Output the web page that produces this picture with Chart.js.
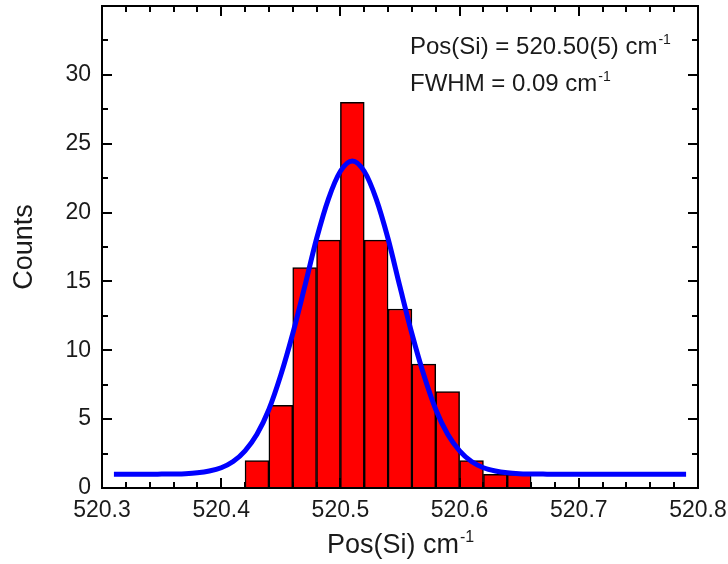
<!DOCTYPE html>
<html lang="en">
<head>
<meta charset="UTF-8">
<title>Pos(Si) histogram</title>
<script src="https://cdn.jsdelivr.net/npm/chart.js"></script>
<style>
  body { margin: 0; background: #fff; }
  #wrap { width: 728px; height: 564px; }
</style>
</head>
<body>
<div id="wrap"><canvas id="myChart"></canvas></div>
<script>
// histogram bins (centres, width 0.02) and counts
const binCentres = [520.43, 520.45, 520.47, 520.49, 520.51, 520.53, 520.55, 520.57, 520.59, 520.61, 520.63, 520.65];
const binCounts = [2, 6, 16, 18, 28, 18, 13, 9, 7, 2, 1, 1];

// gaussian fit curve, every 0.01
const fitX = [520.31, 520.32, 520.33, 520.34, 520.35, 520.36, 520.37, 520.38, 520.39, 520.40,
              520.41, 520.42, 520.43, 520.44, 520.45, 520.46, 520.47, 520.48, 520.49, 520.50,
              520.51, 520.52, 520.53, 520.54, 520.55, 520.56, 520.57, 520.58, 520.59, 520.60,
              520.61, 520.62, 520.63, 520.64, 520.65, 520.66, 520.67, 520.68, 520.69, 520.70,
              520.71, 520.72, 520.73, 520.74, 520.75, 520.76, 520.77, 520.78, 520.79];
const fitY = [1.0, 1.0, 1.0, 1.0, 1.01, 1.02, 1.04, 1.1, 1.23, 1.47,
              1.92, 2.7, 3.9, 5.7, 8.2, 11.2, 14.6, 18.1, 21.0, 23.0,
              23.75, 23.0, 21.0, 18.1, 14.6, 11.2, 8.2, 5.7, 3.9, 2.7,
              1.92, 1.47, 1.23, 1.1, 1.04, 1.02, 1.01, 1.0, 1.0, 1.0,
              1.0, 1.0, 1.0, 1.0, 1.0, 1.0, 1.0, 1.0, 1.0];

const xTickLabels = [520.3, 520.4, 520.5, 520.6, 520.7, 520.8];
const yTickLabels = [0, 5, 10, 15, 20, 25, 30];

const FONT = "'Liberation Sans', Arial, sans-serif";
const TXT = '#1a1a1a';

// text with a "-1" superscript at the end
function supText(ctx, main, sup, x, y, size, align) {
    ctx.font = size + 'px ' + FONT;
    const w1 = ctx.measureText(main).width;
    ctx.font = Math.round(size * 0.58) + 'px ' + FONT;
    const w2 = ctx.measureText(sup).width;
    let x0 = x;
    if (align === 'center') x0 = x - (w1 + w2) / 2;
    ctx.textAlign = 'left';
    ctx.textBaseline = 'alphabetic';
    ctx.fillStyle = TXT;
    ctx.font = size + 'px ' + FONT;
    ctx.fillText(main, x0, y);
    ctx.font = Math.round(size * 0.58) + 'px ' + FONT;
    ctx.fillText(sup, x0 + w1 + 1, y - size * 0.42);
}

// frame, inward ticks on all four sides, texts
const framePlugin = {
    id: 'frame',
    afterDraw(chart) {
        const ctx = chart.ctx;
        const a = chart.chartArea;
        const xs = chart.scales.x, ys = chart.scales.y;
        ctx.save();
        ctx.strokeStyle = '#000';
        ctx.lineWidth = 2;
        ctx.strokeRect(a.left, a.top, a.right - a.left, a.bottom - a.top);

        ctx.beginPath();
        for (let v = 520.3; v <= 520.8001; v += 0.02) {
            const px = Math.round(xs.getPixelForValue(v));
            const major = Math.abs(v * 10 - Math.round(v * 10)) < 0.01;
            const len = major ? 10 : 6;
            ctx.moveTo(px, a.bottom); ctx.lineTo(px, a.bottom - len);
            ctx.moveTo(px, a.top); ctx.lineTo(px, a.top + len);
        }
        for (let v = 0; v <= 35.001; v += 2.5) {
            const py = Math.round(ys.getPixelForValue(v));
            const len = (v % 5 === 0) ? 10 : 6;
            ctx.moveTo(a.left, py); ctx.lineTo(a.left + len, py);
            ctx.moveTo(a.right, py); ctx.lineTo(a.right - len, py);
        }
        ctx.stroke();

        supText(ctx, 'Pos(Si) = 520.50(5) cm', '-1', 410, 54, 24, 'left');
        supText(ctx, 'FWHM = 0.09 cm', '-1', 410, 91, 24, 'left');
        supText(ctx, 'Pos(Si) cm', '-1', (a.left + a.right) / 2, 553, 27, 'center');
        ctx.restore();
    }
};

const ctx = document.getElementById('myChart');
const siChart = new Chart(ctx, {
    type: 'bar',
    data: {
        datasets: [
            {
                type: 'line',
                label: 'fit',
                data: fitX.map((x, i) => ({ x: x, y: fitY[i] })),
                borderColor: '#0000ff',
                borderWidth: 5,
                pointRadius: 0,
                cubicInterpolationMode: 'monotone',
                order: 0
            },
            {
                type: 'bar',
                label: 'counts',
                data: binCentres.map((x, i) => ({ x: x, y: binCounts[i] })),
                backgroundColor: '#ff0000',
                borderColor: '#000',
                borderWidth: 1.5,
                barPercentage: 1,
                categoryPercentage: 1,
                order: 1
            }
        ]
    },
    options: {
        responsive: true,
        maintainAspectRatio: false,
        animation: false,
        layout: { padding: { left: 0, right: 30, top: 6, bottom: 0 } },
        plugins: { legend: { display: false }, tooltip: { enabled: false } },
        scales: {
            x: {
                type: 'linear',
                offset: false,
                min: 520.3,
                max: 520.8,
                afterBuildTicks: (s) => { s.ticks = xTickLabels.map(v => ({ value: v })); },
                // fixed height, and let the last label run past the plot edge
                afterFit: (s) => { s.height = 76; s.paddingLeft = 0; s.paddingRight = 0; },
                grid: { display: false, drawTicks: false },
                border: { display: false },
                ticks: {
                    padding: 9,
                    color: TXT,
                    font: { family: FONT, size: 23 },
                    maxRotation: 0,
                    callback: (v) => Number(v).toFixed(1)
                }
            },
            y: {
                min: 0,
                max: 35,
                afterBuildTicks: (s) => { s.ticks = yTickLabels.map(v => ({ value: v })); },
                afterFit: (s) => { s.width = 102; s.paddingTop = 0; s.paddingBottom = 0; },
                grid: { display: false, drawTicks: false },
                border: { display: false },
                ticks: {
                    padding: 11,
                    color: TXT,
                    font: { family: FONT, size: 23 }
                },
                title: {
                    display: true,
                    text: 'Counts',
                    color: TXT,
                    font: { family: FONT, size: 27 },
                    padding: { top: 8, bottom: 0 }
                }
            }
        }
    },
    plugins: [framePlugin]
});
</script>
</body>
</html>
